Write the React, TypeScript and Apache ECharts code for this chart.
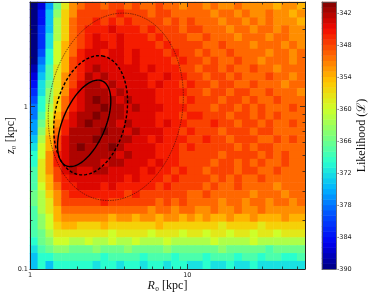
import React, { useEffect, useRef } from 'react';
import * as echarts from 'echarts';

// ---- data -----------------------------------------------------------
const R0_MIN = 1;
const R0_MAX = 56;
const Z0_MIN = 0.1;
const Z0_MAX = 4.4;
const N_R0_BINS = 35;
const N_Z0_BINS = 34;

// letter code -> likelihood value
const LEVEL_CODES = 'ABCDEFGHIJKLMNOPQRSTUVWXYZ';
const LEVEL_VALUES = [
  -390, -388, -386, -384, -382, -380, -378, -376, -374, -372, -370, -368, -366,
  -364, -362, -360, -358, -356, -354, -352, -350, -348, -346, -344, -342, -340,
];

// rows from top (largest z0) to bottom (z0 = 0.1); columns from R0 = 1 to R0 = 56
const LIKELIHOOD_ROWS = [
  'ACHMQTUVVUVVUVUUVUUTUUTUTTUTTTTSTTS',
  'ADINRTVVVVVWVVVUVVUUUUUTUUTUTTUTTST',
  'ADIORUVVWVWVWVVVVUVUVUUUTUUTUTUTTTS',
  'AEIORUVWWWXWWWVWVVVUVVUUUTUUTUUTUTT',
  'AEJORUVWXWWXWWWVWVVVUUVUUUTUUUTUUTT',
  'AEJPSUVWXXWXWWWWVWVVVVUUVUUUTUUUTUT',
  'AFKPSUWXXWXXWXWWWVWVVUVUUVUUUUTUUTU',
  'AGKPSVWXXXXXWXWWWWVWVVUVUUVUUTUUUTU',
  'BHLQSVWXYXXXXXWXWWWVVUVVUVUUVUUTUUU',
  'CILQTVWYXYXXXXXWWXWWVVUVVUVUUUVUUTU',
  'DJMQTVXYYXYXXXXWXWWVWVVUVVUUVUUUTUU',
  'EJNQTWXYYYXYXXXXWWWWVVUVVUVVUUVUUUT',
  'FKNRUWXYZYYXYXXXWWWVWVVVUVVUVUUVUUU',
  'GKORUWXYYZYYXYXXXWWWVVVUVVUVUVUUUVU',
  'GLPSVXYYZYYYXXXXWWWVWWVVVUVVUVUVUUU',
  'HMQTWXYZYYYXYXXXWXWWVVVWVVUVVUVUUVU',
  'HNRUWYYYYZYYXYXXXWWVWVVVUVVVUVVUUUU',
  'IOSVXYYYZYYYYXXWXWWWVVWVVUVVVUUVUVU',
  'JPSVXYZYYYZYXXXXWWWVWVVVVVUVUVVUUUU',
  'KPTWXYYYYYYXYXXXWWWVVVVVUVVVVUVUVUU',
  'KQTWXYYYYXYYXXXWXWWVVVVUVVUVUVUUVUU',
  'LQTVXYXXYYXXXXWXWWVWVVUVVVUVVUUVUUU',
  'LQSVWXXXXXXXWXWWWVWVVVVUVUVUUVUUUUU',
  'LPSUWWXXXWXWWWWWVWVVVVUVUUVUUUUTUUU',
  'MORTVWWWWWWWVWVVVVVVUUVUUUUUTUUUTUU',
  'MOQTVVVVVWVVVVVVUVUVUUUUTUUTUUTUUTU',
  'LOQSUUUUUUUUUUUTUUTUUTTUTTUTTUTTTTT',
  'LNPSTTTTTTSTTSTTSTTSTSTSSTSSTSSSTSS',
  'LNPRSSRRRSRRRRRRSRRRRRRRQRRRRQRRRRR',
  'LMOQQQQQQQPQQQQPQQQPQQPQQPQQPQQPQQQ',
  'KMNPPOOPOOPOOPOOOPOOOOOPOOOOPOOOOOO',
  'JLMNNMMMNMMMNMMMMNMMMMMMNMMMMMLMMMM',
  'IKKLLLLLLKLLLLKLLLKLLLKLLLKLLKLLKKL',
  'IKIKKKKKJKKJKKJKKJKKJJKJJKJJKJJJJJJ',
];

const R0_MAJOR_TICKS = [1, 10];
const R0_MINOR_TICKS = [2, 3, 4, 5, 6, 7, 8, 9, 20, 30, 40, 50];
const Z0_MAJOR_TICKS = [0.1, 1];
const Z0_MINOR_TICKS = [0.2, 0.3, 0.4, 0.5, 0.6, 0.7, 0.8, 0.9, 2, 3, 4];

const CBAR_MIN = -390;
const CBAR_MAX = -340;
const CBAR_TICKS = [-390, -384, -378, -372, -366, -360, -354, -348, -342];
const CBAR_STEPS = 50;

// confidence contours (ellipses in log10 space)
const CONTOUR_NAMES = ['1 sigma', '2 sigma', '3 sigma'];
const CONTOUR_R0 = [2.21, 2.43, 3.51];
const CONTOUR_Z0 = [0.788, 0.883, 0.996];
const CONTOUR_A_DEX = [0.285, 0.373, 0.581];
const CONTOUR_B_DEX = [0.135, 0.225, 0.424];
const CONTOUR_ANGLE_DEG = [66, 77, 80];

// ---- helpers ---------------------------------------------------------
const JET = [
  '#000080', '#0000f4', '#004cff', '#00b3ff', '#29ffce', '#7dff7a',
  '#ceff29', '#ffc600', '#ff6800', '#f30900', '#800000',
];

function binCenters(min: number, max: number, n: number): string[] {
  const lmin = Math.log10(min);
  const lmax = Math.log10(max);
  const out: string[] = [];
  for (let i = 0; i < n; i++) {
    out.push((10 ** (lmin + ((i + 0.5) / n) * (lmax - lmin))).toPrecision(3));
  }
  return out;
}

function ellipse(k: number): number[][] {
  const cx = Math.log10(CONTOUR_R0[k]);
  const cy = Math.log10(CONTOUR_Z0[k]);
  const a = CONTOUR_A_DEX[k];
  const b = CONTOUR_B_DEX[k];
  const th = (CONTOUR_ANGLE_DEG[k] * Math.PI) / 180;
  const pts: number[][] = [];
  for (let i = 0; i <= 160; i++) {
    const t = (i / 160) * 2 * Math.PI;
    const dx = a * Math.cos(t) * Math.cos(th) - b * Math.sin(t) * Math.sin(th);
    const dy = a * Math.cos(t) * Math.sin(th) + b * Math.sin(t) * Math.cos(th);
    pts.push([10 ** (cx + dx), 10 ** (cy + dy)]);
  }
  return pts;
}

export default function App() {
  const ref = useRef<HTMLDivElement>(null);

  useEffect(() => {
    if (!ref.current) return;
    const chart = echarts.init(ref.current, undefined, { renderer: 'svg' });

    const heatData: number[][] = [];
    LIKELIHOOD_ROWS.forEach((row, t) => {
      for (let c = 0; c < row.length; c++) {
        const v = LEVEL_VALUES[LEVEL_CODES.indexOf(row[c])];
        heatData.push([c, N_Z0_BINS - 1 - t, v]);
      }
    });

    const cbarData: number[][] = [];
    const cbarCats: string[] = [];
    for (let k = 0; k < CBAR_STEPS; k++) {
      const v = CBAR_MIN + ((k + 0.5) * (CBAR_MAX - CBAR_MIN)) / CBAR_STEPS;
      cbarCats.push(String(v));
      cbarData.push([0, k, v]);
    }

    const frameColor = '#222';
    const tickFont = { fontFamily: 'DejaVu Sans', fontSize: 6.5, color: '#222' };
    const nameFont = {
      fontFamily: 'Liberation Serif, DejaVu Serif, serif',
      fontSize: 12,
      color: '#111',
      rich: {
        i: {
          fontFamily: 'Liberation Serif, DejaVu Serif, serif',
          fontStyle: 'italic',
          fontSize: 12,
          color: '#111',
        },
      },
    };

    const logX = (position: string, ticks: number[], len: number, withLine: boolean, withLabel: boolean, extra: any = {}) => ({
      type: 'log',
      gridIndex: 0,
      min: R0_MIN,
      max: R0_MAX,
      position,
      z: 10,
      axisLine: { show: withLine, onZero: false, lineStyle: { color: frameColor, width: 1 } },
      axisTick: { show: true, inside: true, length: len, lineStyle: { color: frameColor, width: 0.8 }, customValues: ticks },
      axisLabel: { show: withLabel, margin: 2, customValues: ticks, ...tickFont },
      splitLine: { show: false },
      ...extra,
    });
    const logY = (position: string, ticks: number[], len: number, withLine: boolean, withLabel: boolean, extra: any = {}) => ({
      type: 'log',
      gridIndex: 0,
      min: Z0_MIN,
      max: Z0_MAX,
      position,
      z: 10,
      axisLine: { show: withLine, onZero: false, lineStyle: { color: frameColor, width: 1 } },
      axisTick: { show: true, inside: true, length: len, lineStyle: { color: frameColor, width: 0.8 }, customValues: ticks },
      axisLabel: { show: withLabel, margin: 2, customValues: ticks, ...tickFont },
      splitLine: { show: false },
      ...extra,
    });

    const contourStyles = [
      { color: '#000', width: 1.4, type: 'solid' },
      { color: '#000', width: 1.4, type: [3, 2] },
      { color: 'rgba(50,10,10,0.85)', width: 0.7, type: [1.5, 1] },
    ];

    const option: any = {
      animation: false,
      grid: [
        { left: 30, top: 2, width: 275, height: 267, outerBoundsMode: 'none', containLabel: false },
        { left: 322, top: 2, width: 14, height: 267, outerBoundsMode: 'none', containLabel: false },
      ],
      visualMap: {
        type: 'continuous',
        show: false,
        min: CBAR_MIN,
        max: CBAR_MAX,
        dimension: 2,
        seriesIndex: [0, 1],
        inRange: { color: JET },
      },
      xAxis: [
        { type: 'category', gridIndex: 0, data: binCenters(R0_MIN, R0_MAX, N_R0_BINS), show: false },
        logX('bottom', R0_MAJOR_TICKS, 5, true, true, {
          name: '{i|R}₀ [kpc]',
          nameLocation: 'middle',
          nameGap: 10,
          nameMoveOverlap: false,
          nameTextStyle: nameFont,
        }),
        logX('bottom', R0_MINOR_TICKS, 2.5, false, false),
        logX('top', R0_MAJOR_TICKS, 5, true, false),
        logX('top', R0_MINOR_TICKS, 2.5, false, false),
        {
          type: 'category', gridIndex: 1, data: ['cb'], position: 'bottom', z: 10,
          axisLine: { show: true, onZero: false, lineStyle: { color: '#555', width: 0.8 } },
          axisTick: { show: false }, axisLabel: { show: false }, splitLine: { show: false },
        },
        {
          type: 'category', gridIndex: 1, data: ['cb'], position: 'top', z: 10,
          axisLine: { show: true, onZero: false, lineStyle: { color: '#555', width: 0.8 } },
          axisTick: { show: false }, axisLabel: { show: false }, splitLine: { show: false },
        },
      ],
      yAxis: [
        { type: 'category', gridIndex: 0, data: binCenters(Z0_MIN, Z0_MAX, N_Z0_BINS), show: false },
        logY('left', Z0_MAJOR_TICKS, 5, true, true, {
          name: '{i|z}₀ [kpc]',
          nameLocation: 'middle',
          nameRotate: 90,
          nameGap: 14,
          nameMoveOverlap: false,
          nameTextStyle: nameFont,
        }),
        logY('left', Z0_MINOR_TICKS, 2.5, false, false),
        logY('right', Z0_MAJOR_TICKS, 5, true, false),
        logY('right', Z0_MINOR_TICKS, 2.5, false, false),
        {
          type: 'category', gridIndex: 1, data: cbarCats, position: 'left', z: 10,
          axisLine: { show: true, onZero: false, lineStyle: { color: '#555', width: 0.8 } },
          axisTick: { show: false }, axisLabel: { show: false }, splitLine: { show: false },
        },
        {
          type: 'value', gridIndex: 1, min: CBAR_MIN, max: CBAR_MAX, position: 'right', z: 10,
          axisLine: { show: true, onZero: false, lineStyle: { color: '#555', width: 0.8 } },
          axisTick: { show: false },
          axisLabel: { show: true, margin: 1, customValues: CBAR_TICKS, ...tickFont },
          splitLine: { show: false },
          name: 'Likelihood (ℒ)',
          nameLocation: 'middle',
          nameRotate: 90,
          nameGap: 19,
          nameMoveOverlap: false,
          nameTextStyle: nameFont,
        },
      ],
      series: [
        {
          type: 'heatmap',
          xAxisIndex: 0,
          yAxisIndex: 0,
          data: heatData,
          progressive: 0,
          silent: true,
        },
        {
          type: 'heatmap',
          xAxisIndex: 5,
          yAxisIndex: 5,
          data: cbarData,
          progressive: 0,
          silent: true,
        },
        ...CONTOUR_NAMES.map((name, k) => ({
          type: 'line',
          name,
          xAxisIndex: 1,
          yAxisIndex: 1,
          data: ellipse(k),
          symbol: 'none',
          showSymbol: false,
          smooth: false,
          clip: true,
          silent: true,
          z: 6,
          lineStyle: contourStyles[k],
        })),
      ],
    };

    chart.setOption(option);
    return () => chart.dispose();
  }, []);

  return (
    <div
      ref={ref}
      style={{ position: 'fixed', left: 0, top: 0, width: 374, height: 294 }}
    />
  );
}
